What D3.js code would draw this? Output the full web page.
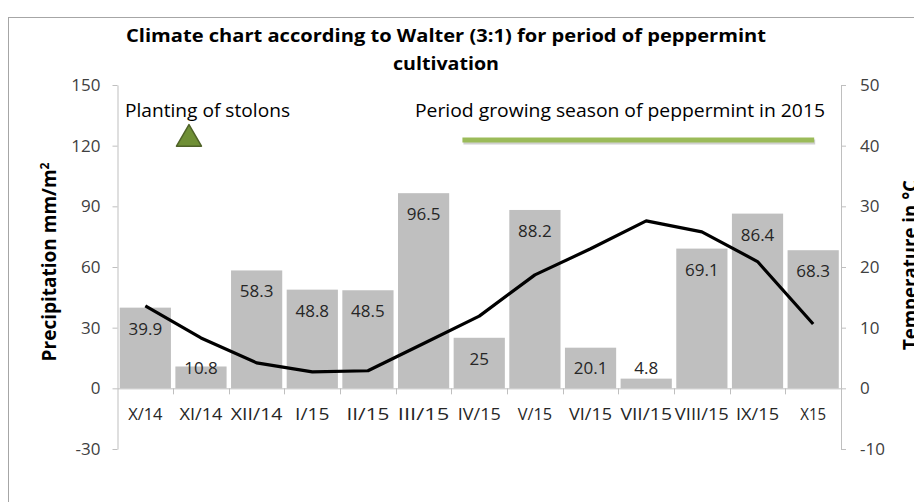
<!DOCTYPE html>
<html>
<head>
<meta charset="utf-8">
<script src="https://cdnjs.cloudflare.com/ajax/libs/d3/7.8.5/d3.min.js"></script>
<style>
  body { margin: 0; background: #fff; }
  text { font-family: "Open Sans", Lato, sans-serif; }
</style>
</head>
<body>
<div id="chart"></div>
<script>
// Months of the cultivation period
var months = ["X/14", "XI/14", "XII/14", "I/15", "II/15", "III/15", "IV/15",
  "V/15", "VI/15", "VII/15", "VIII/15", "IX/15", "X15"];
// Precipitation mm/m2 (bars)
var precipitation = [39.9, 10.8, 58.3, 48.8, 48.5, 96.5, 25, 88.2, 20.1, 4.8, 69.1, 86.4, 68.3];
// Mean temperature in °C (line)
var temperature = [13.6, 8.3, 4.2, 2.7, 2.9, 7.4, 11.9, 18.7, 23.0, 27.6, 25.8, 20.9, 10.6];
// Axis ticks
var precipTicks = [-30, 0, 30, 60, 90, 120, 150];
var tempTicks = [-10, 0, 10, 20, 30, 40, 50];
// Annotations
var plantingMonth = "XI/14";
var seasonStart = "IV/15", seasonEnd = "X15";

var width = 914, height = 502;
var plotLeft = 117.5, plotRight = 841, plotTop = 85, plotBottom = 449;

var svg = d3.select("#chart").append("svg")
  .attr("width", width)
  .attr("height", height);

// Outer frame
svg.append("rect")
  .attr("x", 8.5).attr("y", 17.5)
  .attr("width", 940).attr("height", 520)
  .attr("fill", "none")
  .attr("stroke", "#a6a6a6");

var x = d3.scaleBand().domain(months).range([plotLeft, plotRight]).paddingInner(0.08).paddingOuter(0.04);
var xb = d3.scaleBand().domain(months).range([plotLeft, plotRight]);
var yP = d3.scaleLinear().domain([-30, 150]).range([plotBottom, plotTop]);
var yT = d3.scaleLinear().domain([-10, 50]).range([plotBottom, plotTop]);
var zeroY = yP(0);

// Title
svg.append("text")
  .attr("x", 446).attr("y", 42)
  .attr("text-anchor", "middle")
  .attr("font-size", 18).attr("font-weight", "bold").attr("fill", "#000")
  .attr("textLength", 640).attr("lengthAdjust", "spacingAndGlyphs")
  .text("Climate chart according to Walter (3:1) for period of peppermint");
svg.append("text")
  .attr("x", 446).attr("y", 70)
  .attr("text-anchor", "middle")
  .attr("font-size", 18).attr("font-weight", "bold").attr("fill", "#000")
  .attr("textLength", 106).attr("lengthAdjust", "spacingAndGlyphs")
  .text("cultivation");

// Bars
svg.selectAll("rect.bar")
  .data(precipitation)
  .enter()
  .append("rect")
  .attr("class", "bar")
  .attr("x", function(d, i) { return x(months[i]); })
  .attr("width", x.bandwidth())
  .attr("y", function(d) { return yP(d); })
  .attr("height", function(d) { return zeroY - yP(d); })
  .attr("fill", "#bfbfbf");

// Bar labels (inside end, pushed up for short bars)
svg.selectAll("text.barlabel")
  .data(precipitation)
  .enter()
  .append("text")
  .attr("class", "barlabel")
  .attr("x", function(d, i) { return x(months[i]) + x.bandwidth() / 2; })
  .attr("y", function(d) { return Math.min(yP(d) + 21, zeroY - 20) + 6; })
  .attr("text-anchor", "middle")
  .attr("font-size", 17).attr("fill", "#262626")
  .text(function(d) { return d; });

// Left axis
var axisL = svg.append("g")
  .attr("transform", "translate(" + plotLeft + ",0)")
  .call(d3.axisLeft(yP).tickValues(precipTicks).tickFormat(String)
    .tickSize(5).tickPadding(12).tickSizeOuter(0));
// Right axis
var axisR = svg.append("g")
  .attr("transform", "translate(" + plotRight + ",0)")
  .call(d3.axisRight(yT).tickValues(tempTicks).tickFormat(String)
    .tickSize(5).tickPadding(14).tickSizeOuter(0));
[axisL, axisR].forEach(function(a) {
  a.select(".domain").attr("stroke", "#bfbfbf");
  a.selectAll(".tick line").attr("stroke", "#bfbfbf");
  a.selectAll(".tick text").attr("font-size", 17).attr("fill", "#404040")
    .attr("font-family", "'Open Sans', sans-serif");
});

// X axis at zero
var axisX = svg.append("g")
  .attr("transform", "translate(0," + zeroY + ")")
  .call(d3.axisBottom(x).tickSize(0).tickPadding(20).tickSizeOuter(0));
axisX.select(".domain").attr("stroke", "#bfbfbf").attr("d", "M" + plotLeft + ",0.5H" + plotRight);
axisX.selectAll(".tick text").attr("font-size", 17).attr("fill", "#262626")
  .attr("font-family", "'Open Sans', sans-serif")
  .attr("textLength", function(d) { return Math.min(d.length * 8.6, 54); })
  .attr("lengthAdjust", "spacingAndGlyphs");
// Category boundary ticks
svg.append("g").selectAll("line")
  .data(months.slice(1))
  .enter()
  .append("line")
  .attr("x1", function(d) { return Math.round(xb(d)) + 0.5; })
  .attr("x2", function(d) { return Math.round(xb(d)) + 0.5; })
  .attr("y1", zeroY)
  .attr("y2", zeroY + 6)
  .attr("stroke", "#bfbfbf");

// Temperature line
var line = d3.line()
  .x(function(d, i) { return xb(months[i]) + xb.bandwidth() / 2; })
  .y(function(d) { return yT(d); });
svg.append("path")
  .datum(temperature)
  .attr("d", line)
  .attr("fill", "none")
  .attr("stroke", "#000")
  .attr("stroke-width", 3.2)
  .attr("stroke-linejoin", "round");

// Axis titles
svg.append("text")
  .attr("transform", "translate(56,262) rotate(-90)")
  .attr("text-anchor", "middle")
  .attr("font-size", 19).attr("font-weight", "bold")
  .html("Precipitation mm/m<tspan dy='-7' font-size='12'>2</tspan>");
svg.append("text")
  .attr("transform", "translate(917,265) rotate(-90)")
  .attr("text-anchor", "middle")
  .attr("font-size", 19).attr("font-weight", "bold")
  .attr("textLength", 170).attr("lengthAdjust", "spacingAndGlyphs")
  .text("Temperature in °C");

// Planting annotation
var px = xb(plantingMonth) + xb.bandwidth() / 2 - 12;
svg.append("text")
  .attr("x", 125).attr("y", 117)
  .attr("font-size", 18).attr("fill", "#000")
  .attr("textLength", 165).attr("lengthAdjust", "spacingAndGlyphs")
  .text("Planting of stolons");
svg.append("path")
  .attr("d", d3.symbol().type(d3.symbolTriangle).size(270))
  .attr("transform", "translate(" + px + ",139)")
  .attr("fill", "#6f8f35")
  .attr("stroke", "#4f6228")
  .attr("stroke-width", 1.5)
  .attr("stroke-linejoin", "round");

// Growing season annotation
svg.append("text")
  .attr("x", 415).attr("y", 117)
  .attr("font-size", 18).attr("fill", "#000")
  .attr("textLength", 410).attr("lengthAdjust", "spacingAndGlyphs")
  .text("Period growing season of peppermint in 2015");
var gx1 = xb(seasonStart) + 11;
var gx2 = xb(seasonEnd) + xb.bandwidth() / 2 + 1;
svg.append("line")
  .attr("x1", gx1 + 1).attr("x2", gx2 + 1)
  .attr("y1", 142).attr("y2", 142)
  .attr("stroke", "#999").attr("stroke-width", 5).attr("opacity", 0.45);
svg.append("line")
  .attr("x1", gx1).attr("x2", gx2)
  .attr("y1", 140).attr("y2", 140)
  .attr("stroke", "#9bbb59").attr("stroke-width", 5);
</script>
</body>
</html>
